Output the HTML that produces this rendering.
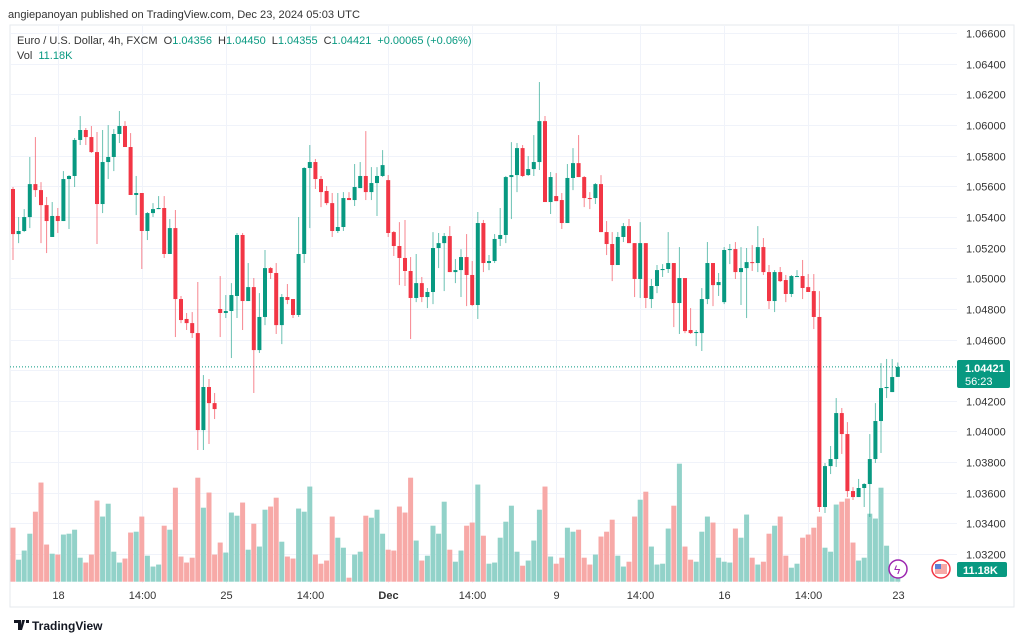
<!DOCTYPE html>
<html><head><meta charset="utf-8"><style>
body{margin:0;background:#fff;font-family:"Liberation Sans",sans-serif;}
#wrap{position:relative;width:1024px;height:641px;overflow:hidden;background:#fff}
svg text{font-family:"Liberation Sans",sans-serif}
</style></head><body>
<div id="wrap">
<svg id="chart" width="1024" height="641" viewBox="0 0 1024 641">
<text x="8" y="18" font-size="11.1" fill="#333">angiepanoyan published on TradingView.com, Dec 23, 2024 05:03 UTC</text>
<rect x="10" y="25" width="1004" height="582" fill="none" stroke="#e6e8ee" stroke-width="1"/>
<g id="grid"></g>
<g id="vols"></g>
<line x1="10" x2="957" y1="368" y2="368" stroke="#089981" stroke-dasharray="1,2" stroke-width="1" id="pline"/>
<g id="candles"></g>
<g id="yaxis"></g>
<g id="xaxis"></g>
<text x="17" y="44" font-size="11" fill="#333">Euro / U.S. Dollar, 4h, FXCM <tspan dx="3">O</tspan><tspan fill="#089981">1.04356</tspan><tspan dx="6">H</tspan><tspan fill="#089981">1.04450</tspan><tspan dx="6">L</tspan><tspan fill="#089981">1.04355</tspan><tspan dx="6">C</tspan><tspan fill="#089981">1.04421</tspan><tspan dx="6" fill="#089981">+0.00065 (+0.06%)</tspan></text>
<text x="17" y="59" font-size="11" fill="#333">Vol <tspan dx="3" fill="#089981">11.18K</tspan></text>
<g>
<rect x="957" y="360" width="53" height="28" rx="2" fill="#089981"/>
<text x="965" y="372" font-size="11" fill="#fff" font-weight="bold">1.04421</text>
<text x="965" y="385" font-size="11" fill="#fff">56:23</text>
</g>
<g>
<rect x="957" y="562" width="50" height="15" rx="2" fill="#089981"/>
<text x="963" y="574" font-size="11" fill="#fff" font-weight="bold">11.18K</text>
</g>
<g>
<circle cx="898" cy="569" r="9" fill="#fff" stroke="#9c27b0" stroke-width="1.5"/>
<text x="894" y="574" font-size="12" fill="#9c27b0">ϟ</text>
</g>
<g>
<circle cx="941" cy="569" r="9" fill="#fff" stroke="#f23645" stroke-width="1.5"/>
<rect x="935" y="564" width="12" height="10" fill="#f7a9a7"/>
<rect x="935" y="564" width="6" height="5" fill="#5b7fd6"/>
</g>
<g>
<path d="M14 620h7v10h-3v-7h-4z M22 620h3l-3 10h-2z M26 620h3v3h-3z" fill="#131722"/>
<text x="32" y="630" font-size="12" fill="#131722" font-weight="bold">TradingView</text>
</g>
</svg>
</div>
<script>
const candleData = [
[1.05582,1.05595,1.05119,1.05288],[1.05288,1.05399,1.05229,1.05308],[1.05308,1.05451,1.05301,1.05399],[1.05399,1.05791,1.05327,1.05614],[1.05614,1.05921,1.05530,1.05575],
[1.05575,1.05627,1.05229,1.05477],[1.05477,1.05530,1.05164,1.05373],[1.05269,1.05497,1.05269,1.05406],[1.05406,1.05458,1.05295,1.05373],[1.05373,1.05699,1.05373,1.05647],
[1.05647,1.05673,1.05321,1.05667],[1.05667,1.05915,1.05595,1.05902],[1.05902,1.06058,1.05869,1.05967],[1.05967,1.05980,1.05869,1.05921],[1.05921,1.05993,1.05817,1.05823],
[1.05823,1.05954,1.05223,1.05484],[1.05484,1.05967,1.05425,1.05758],[1.05758,1.05999,1.05647,1.05791],[1.05791,1.05973,1.05699,1.05941],[1.05941,1.06091,1.05882,1.05993],
[1.05993,1.06025,1.05856,1.05856],[1.05856,1.05947,1.05543,1.05543],[1.05543,1.05667,1.05412,1.05556],[1.05556,1.05556,1.05060,1.05308],[1.05308,1.05432,1.05249,1.05425],
[1.05425,1.05490,1.05399,1.05451],[1.05451,1.05536,1.05451,1.05458],[1.05458,1.05536,1.05132,1.05158],[1.05158,1.05386,1.05158,1.05327],[1.05327,1.05445,1.04616,1.04864],
[1.04864,1.04884,1.04707,1.04727],[1.04734,1.04773,1.04662,1.04707],[1.04707,1.04779,1.04610,1.04642],[1.04642,1.04975,1.03879,1.04009],[1.04009,1.04368,1.03879,1.04290],
[1.04290,1.04342,1.03918,1.04185],[1.04185,1.04251,1.04081,1.04146],[1.04799,1.05014,1.04616,1.04773],[1.04773,1.04890,1.04740,1.04786],[1.04786,1.04968,1.04479,1.04890],
[1.04884,1.05295,1.04740,1.05282],[1.05282,1.05295,1.04662,1.04851],[1.04851,1.05099,1.04851,1.04942],[1.04942,1.05001,1.04251,1.04531],[1.04531,1.04903,1.04512,1.04747],
[1.04747,1.05184,1.04694,1.05066],[1.05066,1.05073,1.04995,1.05034],[1.05034,1.05099,1.04636,1.04694],[1.04694,1.04897,1.04570,1.04877],[1.04877,1.04962,1.04831,1.04858],
[1.04864,1.04864,1.04740,1.04760],[1.04760,1.05399,1.04747,1.05158],[1.05158,1.05725,1.05099,1.05719],[1.05719,1.05869,1.05327,1.05758],[1.05758,1.05778,1.05582,1.05647],
[1.05647,1.05667,1.05464,1.05562],[1.05569,1.05601,1.05477,1.05490],[1.05490,1.05556,1.05269,1.05308],[1.05308,1.05556,1.05295,1.05334],[1.05334,1.05562,1.05308,1.05523],
[1.05523,1.05562,1.05510,1.05510],[1.05510,1.05745,1.05471,1.05595],[1.05588,1.05758,1.05588,1.05667],[1.05667,1.05960,1.05510,1.05562],[1.05562,1.05725,1.05510,1.05621],
[1.05621,1.05725,1.05406,1.05667],[1.05667,1.05836,1.05660,1.05738],[1.05640,1.05673,1.05269,1.05295],[1.05301,1.05308,1.05145,1.05210],[1.05210,1.05366,1.04955,1.05132],
[1.05132,1.05380,1.04949,1.05047],[1.05047,1.05138,1.04603,1.04871],[1.04871,1.05158,1.04844,1.04968],[1.04968,1.05008,1.04844,1.04877],[1.04877,1.04936,1.04805,1.04910],
[1.04910,1.05301,1.04831,1.05197],[1.05197,1.05295,1.05066,1.05229],[1.05229,1.05295,1.04916,1.05275],[1.05275,1.05340,1.05040,1.05040],[1.05040,1.05125,1.04968,1.05053],
[1.05053,1.05190,1.04877,1.05138],[1.05138,1.05288,1.04818,1.05021],[1.05021,1.05112,1.04818,1.04825],[1.04825,1.05432,1.04734,1.05360],[1.05360,1.05380,1.05040,1.05099],
[1.05099,1.05151,1.05053,1.05112],[1.05112,1.05288,1.05099,1.05256],[1.05256,1.05458,1.05210,1.05282],[1.05282,1.05667,1.05229,1.05660],[1.05660,1.05888,1.05386,1.05673],
[1.05673,1.05882,1.05562,1.05849],[1.05849,1.05869,1.05660,1.05667],[1.05673,1.05797,1.05667,1.05712],[1.05712,1.05934,1.05667,1.05758],[1.05758,1.06280,1.05706,1.06025],
[1.06025,1.06058,1.05497,1.05497],[1.05497,1.05693,1.05419,1.05660],[1.05536,1.05686,1.05503,1.05503],[1.05510,1.05556,1.05321,1.05360],[1.05360,1.05745,1.05360,1.05654],
[1.05654,1.05849,1.05575,1.05751],[1.05751,1.05934,1.05660,1.05660],[1.05660,1.05667,1.05464,1.05523],[1.05523,1.05562,1.05451,1.05517],[1.05523,1.05621,1.05484,1.05614],
[1.05614,1.05673,1.05301,1.05301],[1.05301,1.05373,1.05151,1.05223],[1.05223,1.05301,1.04981,1.05086],[1.05086,1.05301,1.05086,1.05269],[1.05269,1.05360,1.05236,1.05340],
[1.05340,1.05386,1.05229,1.05229],[1.05229,1.05229,1.04877,1.04995],[1.04995,1.05366,1.04871,1.05229],[1.05229,1.05229,1.04805,1.04871],[1.04864,1.04995,1.04805,1.04949],
[1.04949,1.05086,1.04903,1.05053],[1.05053,1.05092,1.05008,1.05060],[1.05060,1.05301,1.05034,1.05099],[1.05099,1.05099,1.04681,1.04838],[1.04838,1.05203,1.04636,1.05001],
[1.05001,1.05001,1.04642,1.04655],[1.04662,1.04805,1.04636,1.04642],[1.04642,1.04662,1.04557,1.04649],[1.04642,1.04936,1.04525,1.04864],[1.04864,1.05236,1.04831,1.05099],
[1.05099,1.05099,1.04818,1.04955],[1.04955,1.05034,1.04884,1.04975],[1.04844,1.05203,1.04831,1.05184],[1.05184,1.05223,1.05092,1.05190],[1.05190,1.05236,1.04995,1.05040],
[1.05040,1.05203,1.04825,1.05066],[1.05066,1.05197,1.04740,1.05105],[1.05105,1.05216,1.05047,1.05099],[1.05099,1.05340,1.05040,1.05203],[1.05203,1.05262,1.05021,1.05040],
[1.05040,1.05086,1.04799,1.04851],[1.04851,1.05053,1.04779,1.05040],[1.05040,1.05073,1.04975,1.04981],[1.04988,1.05021,1.04844,1.04897],[1.04897,1.05021,1.04877,1.05014],
[1.05008,1.05053,1.05008,1.05014],[1.05014,1.05119,1.04864,1.04936],[1.04942,1.05027,1.04910,1.04910],[1.04916,1.05027,1.04668,1.04747],[1.04747,1.04916,1.03474,1.03507],
[1.03507,1.03794,1.03468,1.03774],[1.03774,1.03905,1.03722,1.03820],[1.03820,1.04218,1.03768,1.04120],[1.04120,1.04153,1.03853,1.03983],[1.03983,1.04061,1.03572,1.03611],
[1.03611,1.03637,1.03553,1.03572],[1.03572,1.03690,1.03572,1.03631],[1.03631,1.03663,1.03507,1.03657],[1.03657,1.03983,1.03442,1.03820],[1.03820,1.04185,1.03794,1.04068],
[1.04068,1.04446,1.03859,1.04283],[1.04283,1.04473,1.04218,1.04290],[1.04257,1.04473,1.04257,1.04355],[1.04356,1.04450,1.04355,1.04421]
];
const volumes = [
189,77,109,168,245,347,130,98,95,165, 168,182,84,67,95,284,228,273,105,67,
81,172,175,228,91,53,60,196,182,329, 88,67,84,364,259,312,95,137,102,242,
231,277,112,203,123,252,263,294,140,88, 81,256,245,333,95,63,74,228,154,119,
14,95,105,231,224,252,168,112,109,263, 242,364,144,74,91,196,168,280,112,70,
109,196,207,340,161,63,67,154,210,266, 105,56,74,144,252,333,88,63,84,189,
175,182,84,60,95,158,175,217,91,53, 70,228,287,315,123,60,63,186,266,413,
123,77,70,175,228,207,84,70,67,186, 154,235,84,60,70,168,196,228,91,49,
63,154,165,189,228,119,105,270,280,291, 137,74,84,238,221,329,126,53,11.18
];
const priceTicks = ["1.06600","1.06400","1.06200","1.06000","1.05800","1.05600","1.05400","1.05200","1.05000","1.04800","1.04600","1.04400","1.04200","1.04000","1.03800","1.03600","1.03400","1.03200"];
const timeLabels = ["18","14:00","25","14:00","Dec","14:00","9","14:00","16","14:00","23"];
const timeLabelIdx = [8,23,38,53,67,82,97,112,127,142,158];

const NS="http://www.w3.org/2000/svg";
const yP = p => 33 + (1.066 - p) / 0.002 * 30.65;
const xI = i => 13 + 5.6 * i;
const yV = v => 581.7 - v / 3.5;
function mk(tag, attrs, parent){const e=document.createElementNS(NS,tag);for(const k in attrs)e.setAttribute(k,attrs[k]);parent.appendChild(e);return e;}

const grid=document.getElementById('grid'), yax=document.getElementById('yaxis'), xax=document.getElementById('xaxis');
priceTicks.forEach(t=>{
  const y=Math.round(yP(parseFloat(t)))+0.5;
  const l=mk('line',{x1:10,x2:957,y1:y,y2:y,stroke:'#f0f3fa','stroke-width':1},grid);
  
  
  const tx=mk('text',{x:966,y:y+4,'font-size':11,fill:'#333'},yax);
  tx.textContent=t;
  
  
});
timeLabels.forEach((t,k)=>{
  const x=Math.round(xI(timeLabelIdx[k]))+0.5;
  const l=mk('line',{x1:x,x2:x,y1:25,y2:583,stroke:'#f0f3fa','stroke-width':1},grid);
  
  
  const tx=mk('text',{x:x,y:599,'font-size':11,fill:'#333','text-anchor':'middle','font-weight':t==='Dec'?'bold':'normal'},xax);
  tx.textContent=t;
  
  
});
const vg=document.getElementById('vols'), cg=document.getElementById('candles');
candleData.forEach((c,i)=>{
  const [o,h,l,cl]=c; const up=cl>=o; const x=xI(i);
  const v=volumes[i]; const vy=yV(v);
  const vb=mk('rect',{x:x-2.5,y:vy,width:5,height:581.7-vy,fill:up?'#92d2c9':'#f7a9a7'},vg);
  
  
  const col=up?'#089981':'#f23645';
  const w=mk('line',{x1:x,x2:x,y1:yP(h),y2:yP(l),stroke:col,'stroke-width':1,'stroke-opacity':0.6},cg);
  
  
  const top=yP(Math.max(o,cl)), bot=yP(Math.min(o,cl));
  const b=mk('rect',{x:x-2,y:top,width:4,height:Math.max(1,bot-top),fill:col},cg);
  
  
});
const last=candleData[candleData.length-1][3];
document.getElementById('pline').setAttribute('y1',yP(last));
document.getElementById('pline').setAttribute('y2',yP(last));
</script>
</body></html>
